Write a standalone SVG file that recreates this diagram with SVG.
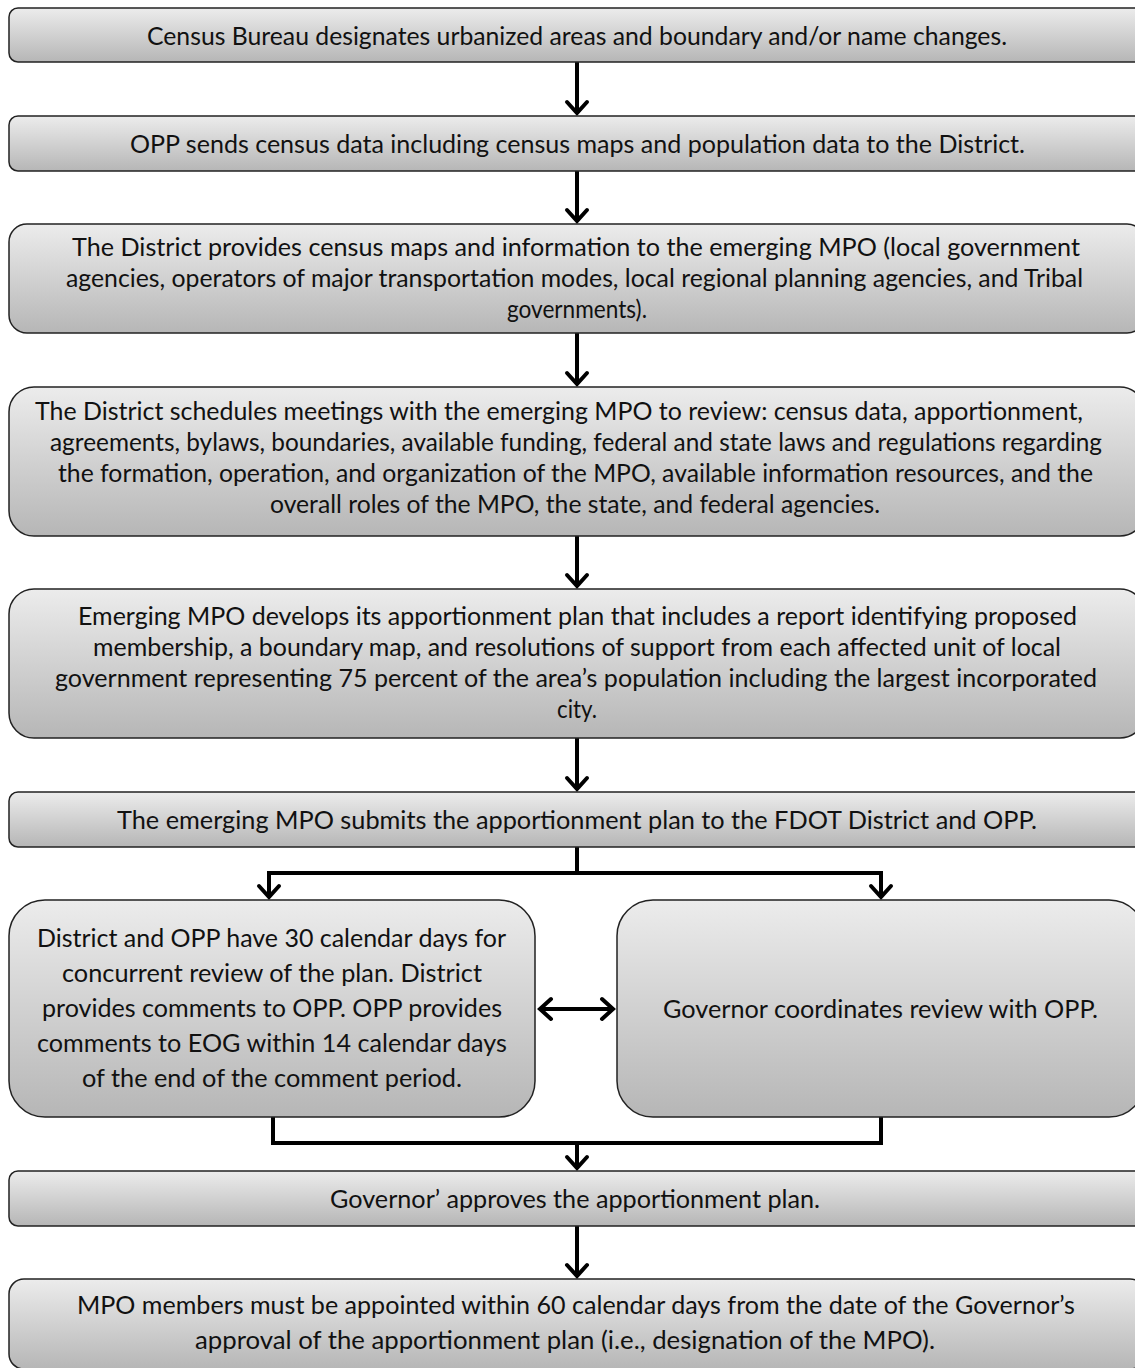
<svg xmlns="http://www.w3.org/2000/svg" width="1135" height="1368" viewBox="0 0 1135 1368">
<defs>
<linearGradient id="g" x1="0" y1="0" x2="0" y2="1">
<stop offset="0" stop-color="#ececec"/>
<stop offset="1" stop-color="#b6b6b6"/>
</linearGradient>
<marker id="ah" viewBox="-16 -14 20 28" markerWidth="20" markerHeight="28" refX="0" refY="0" orient="auto-start-reverse" markerUnits="userSpaceOnUse">
<path d="M-11,-10 L0,0 L-11,10" fill="none" stroke="#000" stroke-width="4" stroke-linecap="round" stroke-linejoin="miter"/>
</marker>
<style>
.box{fill:url(#g);stroke:#222;stroke-width:1.5}
.t{font-family:Lato,"Liberation Sans",sans-serif;font-size:25px;fill:#111;text-anchor:middle}
.c{fill:none;stroke:#000;stroke-width:4}
.a{marker-end:url(#ah)}
.d{marker-start:url(#ah);marker-end:url(#ah)}
</style>
</defs>
<rect width="1135" height="1368" fill="#fff"/>
<g id="connectors">
<line class="c a" x1="577" y1="62" x2="577" y2="113"/>
<line class="c a" x1="577" y1="171" x2="577" y2="221"/>
<line class="c a" x1="577" y1="333" x2="577" y2="384"/>
<line class="c a" x1="577" y1="536" x2="577" y2="586"/>
<line class="c a" x1="577" y1="738" x2="577" y2="789"/>
<polyline class="c" points="577,847 577,873"/>
<polyline class="c a" points="577,873 269,873 269,897"/>
<polyline class="c a" points="577,873 881,873 881,897"/>
<line class="c d" x1="540" y1="1009" x2="613" y2="1009"/>
<polyline class="c" points="273,1117 273,1143 881,1143 881,1117"/>
<line class="c a" x1="577" y1="1143" x2="577" y2="1168"/>
<line class="c a" x1="577" y1="1226" x2="577" y2="1276"/>
</g>
<g id="n1">
<rect class="box" x="9" y="8" width="1136" height="54" rx="9"/>
<text class="t" x="577" y="45" textLength="860" lengthAdjust="spacingAndGlyphs">Census Bureau designates urbanized areas and boundary and/or name changes.</text>
</g>
<g id="n2">
<rect class="box" x="9" y="116" width="1136" height="55" rx="9"/>
<text class="t" x="577.5" y="153" textLength="895" lengthAdjust="spacingAndGlyphs">OPP sends census data including census maps and population data to the District.</text>
</g>
<g id="n3">
<rect class="box" x="9" y="224" width="1136" height="109" rx="18"/>
<text class="t" x="576" y="256" textLength="1008" lengthAdjust="spacingAndGlyphs">The District provides census maps and information to the emerging MPO (local government</text>
<text class="t" x="574.5" y="287" textLength="1017" lengthAdjust="spacingAndGlyphs">agencies, operators of major transportation modes, local regional planning agencies, and Tribal</text>
<text class="t" x="577" y="318" textLength="140" lengthAdjust="spacingAndGlyphs">governments).</text>
</g>
<g id="n4">
<rect class="box" x="9" y="387" width="1136" height="149" rx="25"/>
<text class="t" x="559" y="420" textLength="1048" lengthAdjust="spacingAndGlyphs">The District schedules meetings with the emerging MPO to review: census data, apportionment,</text>
<text class="t" x="576" y="451" textLength="1052" lengthAdjust="spacingAndGlyphs">agreements, bylaws, boundaries, available funding, federal and state laws and regulations regarding</text>
<text class="t" x="575.5" y="482" textLength="1035" lengthAdjust="spacingAndGlyphs">the formation, operation, and organization of the MPO, available information resources, and the</text>
<text class="t" x="575" y="513" textLength="610" lengthAdjust="spacingAndGlyphs">overall roles of the MPO, the state, and federal agencies.</text>
</g>
<g id="n5">
<rect class="box" x="9" y="589" width="1136" height="149" rx="25"/>
<text class="t" x="577.5" y="625" textLength="999" lengthAdjust="spacingAndGlyphs">Emerging MPO develops its apportionment plan that includes a report identifying proposed</text>
<text class="t" x="577" y="656" textLength="968" lengthAdjust="spacingAndGlyphs">membership, a boundary map, and resolutions of support from each affected unit of local</text>
<text class="t" x="576" y="687" textLength="1042" lengthAdjust="spacingAndGlyphs">government representing 75 percent of the area’s population including the largest incorporated</text>
<text class="t" x="577" y="718" textLength="40" lengthAdjust="spacingAndGlyphs">city.</text>
</g>
<g id="n6">
<rect class="box" x="9" y="792" width="1136" height="55" rx="9"/>
<text class="t" x="577" y="829" textLength="920" lengthAdjust="spacingAndGlyphs">The emerging MPO submits the apportionment plan to the FDOT District and OPP.</text>
</g>
<g id="n7a">
<rect class="box" x="9" y="900" width="526" height="217" rx="36"/>
<text class="t" x="271.5" y="947" textLength="469" lengthAdjust="spacingAndGlyphs">District and OPP have 30 calendar days for</text>
<text class="t" x="272" y="982" textLength="420" lengthAdjust="spacingAndGlyphs">concurrent review of the plan. District</text>
<text class="t" x="272" y="1017" textLength="460" lengthAdjust="spacingAndGlyphs">provides comments to OPP. OPP provides</text>
<text class="t" x="272" y="1052" textLength="470" lengthAdjust="spacingAndGlyphs">comments to EOG within 14 calendar days</text>
<text class="t" x="272" y="1087" textLength="380" lengthAdjust="spacingAndGlyphs">of the end of the comment period.</text>
</g>
<g id="n7b">
<rect class="box" x="617" y="900" width="528" height="217" rx="36"/>
<text class="t" x="880.5" y="1018" textLength="435" lengthAdjust="spacingAndGlyphs">Governor coordinates review with OPP.</text>
</g>
<g id="n8">
<rect class="box" x="9" y="1171" width="1136" height="55" rx="9"/>
<text class="t" x="575" y="1208" textLength="490" lengthAdjust="spacingAndGlyphs">Governor’ approves the apportionment plan.</text>
</g>
<g id="n9">
<rect class="box" x="9" y="1279" width="1136" height="90" rx="15"/>
<text class="t" x="576" y="1314" textLength="998" lengthAdjust="spacingAndGlyphs">MPO members must be appointed within 60 calendar days from the date of the Governor’s</text>
<text class="t" x="565" y="1349" textLength="740" lengthAdjust="spacingAndGlyphs">approval of the apportionment plan (i.e., designation of the MPO).</text>
</g>
</svg>
